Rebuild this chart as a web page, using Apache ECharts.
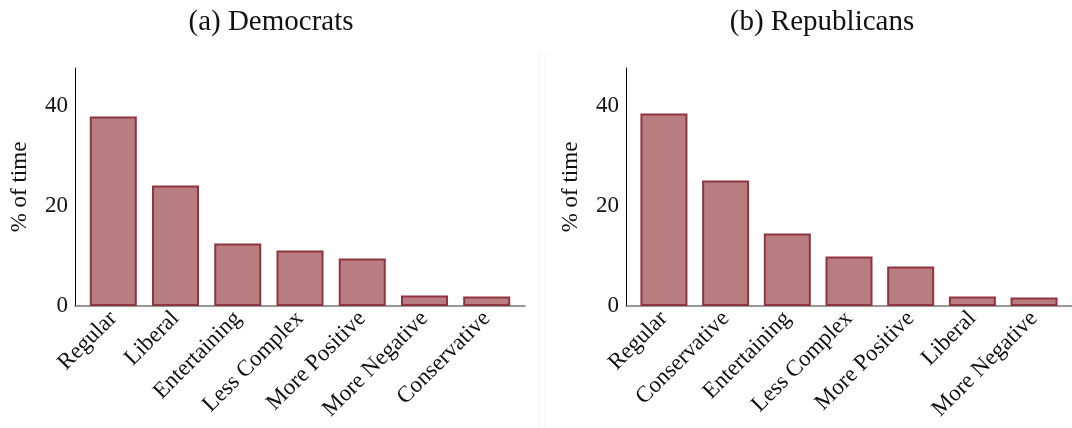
<!DOCTYPE html>
<html>
<head>
<meta charset="utf-8">
<script src="https://cdn.jsdelivr.net/npm/echarts@6/dist/echarts.min.js"></script>
<style>
html,body{margin:0;padding:0;background:#fff;}
#c{width:1072px;height:428px;}
</style>
</head>
<body>
<div id="c"></div>
<script>
const demCategories = ['Regular','Liberal','Entertaining','Less Complex','More Positive','More Negative','Conservative'];
const demValues = [37.9, 24.1, 12.5, 11.1, 9.5, 2.1, 1.9];
const repCategories = ['Regular','Conservative','Entertaining','Less Complex','More Positive','Liberal','More Negative'];
const repValues = [38.5, 25.1, 14.5, 9.9, 7.9, 1.9, 1.7];
const yTicks = [0, 20, 40];
const titles = ['(a) Democrats', '(b) Republicans'];

const FONT = '"Liberation Serif", "Times New Roman", serif';
const chart = echarts.init(document.getElementById('c'), null, {renderer: 'canvas'});

function xAxis(idx, cats) {
  return {
    type: 'value', gridIndex: idx, min: -0.615, max: 6.615,
    axisLine: {show: true, onZero: false, lineStyle: {color: '#777', width: 1.5}},
    axisTick: {show: false},
    splitLine: {show: false},
    axisLabel: {
      customValues: cats.map((_, i) => i),
      rotate: 45, margin: 9, color: '#111', fontFamily: FONT, fontSize: 23,
      formatter: v => cats[Math.round(v)] || ''
    }
  };
}
function yAxis(idx) {
  return {
    type: 'value', gridIndex: idx, min: 0, max: 47.6,
    name: '% of time', nameLocation: 'middle', nameGap: 44, nameRotate: 90,
    nameTextStyle: {fontFamily: FONT, fontSize: 23, color: '#111'},
    axisLine: {show: true, onZero: false, lineStyle: {color: '#000', width: 1}},
    axisTick: {show: false},
    splitLine: {show: false},
    axisLabel: {
      customValues: yTicks, margin: 7, color: '#111', fontFamily: FONT, fontSize: 23
    }
  };
}
function series(idx, vals) {
  return {
    type: 'bar', xAxisIndex: idx, yAxisIndex: idx, barWidth: 47,
    data: vals.map((v, i) => [i, v]),
    itemStyle: {color: '#b87d80', borderColor: '#8f3440', borderWidth: 2},
    silent: true
  };
}

chart.setOption({
  animation: false,
  backgroundColor: '#fff',
  title: [
    {text: titles[0], left: 266, top: 3, textAlign: 'center',
     textStyle: {fontFamily: FONT, fontSize: 29, fontWeight: 'normal', color: '#111'}},
    {text: titles[1], left: 817, top: 3, textAlign: 'center',
     textStyle: {fontFamily: FONT, fontSize: 29, fontWeight: 'normal', color: '#111'}}
  ],
  grid: [
    {left: 75, top: 68, width: 450, height: 238},
    {left: 626, top: 68, width: 450, height: 238}
  ],
  xAxis: [xAxis(0, demCategories), xAxis(1, repCategories)],
  yAxis: [yAxis(0), yAxis(1)],
  series: [series(0, demValues), series(1, repValues)],
  graphic: [
    {type: 'line', shape: {x1: 539.5, y1: 53, x2: 539.5, y2: 428}, style: {stroke: '#f2f2f2', lineWidth: 1}},
    {type: 'line', shape: {x1: 545.5, y1: 53, x2: 545.5, y2: 428}, style: {stroke: '#f2f2f2', lineWidth: 1}}
  ]
});
</script>
</body>
</html>
